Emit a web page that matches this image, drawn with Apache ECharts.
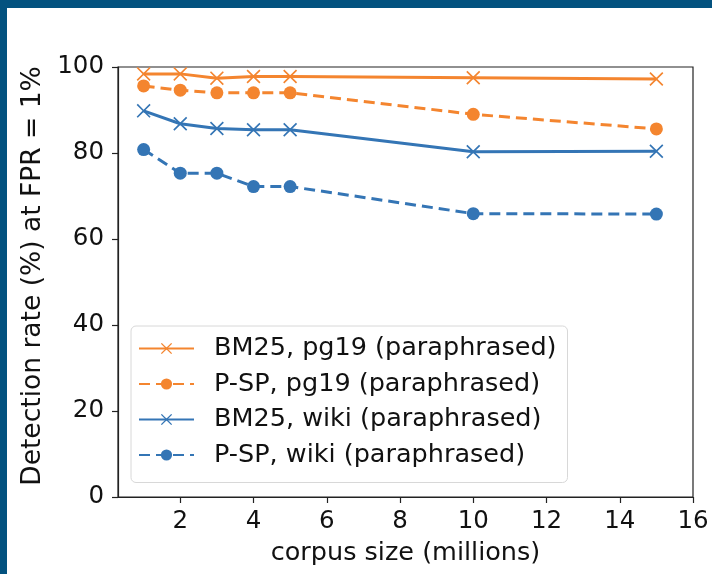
<!DOCTYPE html>
<html>
<head>
<meta charset="utf-8">
<script src="https://cdn.jsdelivr.net/npm/echarts@6/dist/echarts.min.js"></script>
<style>
    html, body { margin: 0; padding: 0; background: #fff; }
    #chart { width: 712px; height: 574px; }
</style>
</head>
<body>
<div id="chart"></div>
<script>
// corpus size (millions)
const corpusSizes = [1, 2, 3, 4, 5, 10, 15];
const bm25Pg19 = [98.4, 98.4, 97.4, 97.8, 97.8, 97.5, 97.2];
const pspPg19 = [95.6, 94.6, 94.0, 94.0, 94.0, 89.0, 85.6];
const bm25Wiki = [89.8, 86.8, 85.7, 85.4, 85.4, 80.3, 80.4];
const pspWiki = [80.8, 75.3, 75.3, 72.2, 72.2, 65.9, 65.8];
const xTicks = [2, 4, 6, 8, 10, 12, 14, 16];
const seriesNames = [
    'BM25, pg19 (paraphrased)',
    'P-SP, pg19 (paraphrased)',
    'BM25, wiki (paraphrased)',
    'P-SP, wiki (paraphrased)',
];

const orange = '#f4852f',
    blue = '#3475b5',
    crossSymbol = 'path://M1,0L6,5L11,0L12,1L7,6L12,11L11,12L6,7L1,12L0,11L5,6L0,1Z',
    fontFamily = 'DejaVu Sans';

function pairs(values) {
    return corpusSizes.map((x, i) => [x, values[i]]);
}

function makeSeries(name, values, color, dashed) {
    return {
        name: name,
        type: 'line',
        data: pairs(values),
        symbol: dashed ? 'circle' : crossSymbol,
        symbolSize: dashed ? 13 : 14,
        showAllSymbol: true,
        lineStyle: {
            width: 3,
            color: color,
            type: dashed ? [11, 6] : 'solid',
        },
        itemStyle: {
            color: color,
        },
        emphasis: { disabled: true },
        z: 3,
    };
}

const myChart = echarts.init(document.getElementById('chart'), null, { renderer: 'canvas' });

const option = {
    animation: false,
    backgroundColor: '#fff',
    textStyle: { fontFamily: fontFamily },
    // frame strips of the slide
    graphic: [
        { type: 'rect', left: 0, top: 0, shape: { width: 712, height: 8 }, style: { fill: '#03527f' }, z: 100 },
        { type: 'rect', left: 0, top: 0, shape: { width: 7, height: 574 }, style: { fill: '#03527f' }, z: 100 },
    ],
    grid: {
        left: 118,
        right: 19,
        top: 67,
        bottom: 77,
        outerBoundsMode: 'none',
        containLabel: false,
        show: true,
        borderColor: '#222',
        borderWidth: 1.2,
        backgroundColor: 'transparent',
    },
    legend: {
        data: seriesNames,
        orient: 'vertical',
        left: 131,
        top: 326,
        itemWidth: 55,
        itemHeight: 14,
        itemGap: 8.5,
        padding: [9, 11, 14, 7],
        backgroundColor: 'rgba(255,255,255,0.85)',
        borderColor: '#d8d8d8',
        borderWidth: 1,
        borderRadius: 5,
        textStyle: {
            fontFamily: fontFamily,
            fontSize: 25.5,
            lineHeight: 27,
            color: '#111',
            padding: [0, 0, 0, 15],
        },
    },
    xAxis: {
        type: 'value',
        min: 0.3,
        max: 16,
        name: 'corpus size (millions)',
        nameLocation: 'middle',
        nameGap: 43,
        nameTextStyle: { fontFamily: fontFamily, fontSize: 25.5, color: '#111' },
        axisLine: { show: true, lineStyle: { color: '#222', width: 1.2 } },
        axisTick: {
            show: true,
            inside: false,
            length: 6,
            customValues: xTicks,
            lineStyle: { color: '#222', width: 1.2 },
        },
        axisLabel: {
            customValues: xTicks,
            margin: 12,
            fontFamily: fontFamily,
            fontSize: 24.5,
            color: '#111',
        },
        splitLine: { show: false },
    },
    yAxis: {
        type: 'value',
        min: 0,
        max: 100,
        interval: 20,
        name: 'Detection rate (%) at FPR = 1%',
        nameLocation: 'middle',
        nameGap: 62,
        nameTextStyle: {
            fontFamily: fontFamily,
            fontSize: 26.5,
            color: '#111',
            padding: [0, 0, 0, 12],
        },
        axisLine: { show: true, lineStyle: { color: '#222', width: 1.2 } },
        axisTick: { show: true, length: 6, lineStyle: { color: '#222', width: 1.2 } },
        axisLabel: {
            margin: 14,
            fontFamily: fontFamily,
            fontSize: 24.5,
            color: '#111',
        },
        splitLine: { show: false },
    },
    series: [
        makeSeries(seriesNames[0], bm25Pg19, orange, false),
        makeSeries(seriesNames[1], pspPg19, orange, true),
        makeSeries(seriesNames[2], bm25Wiki, blue, false),
        makeSeries(seriesNames[3], pspWiki, blue, true),
    ],
};

myChart.setOption(option);
</script>
</body>
</html>
